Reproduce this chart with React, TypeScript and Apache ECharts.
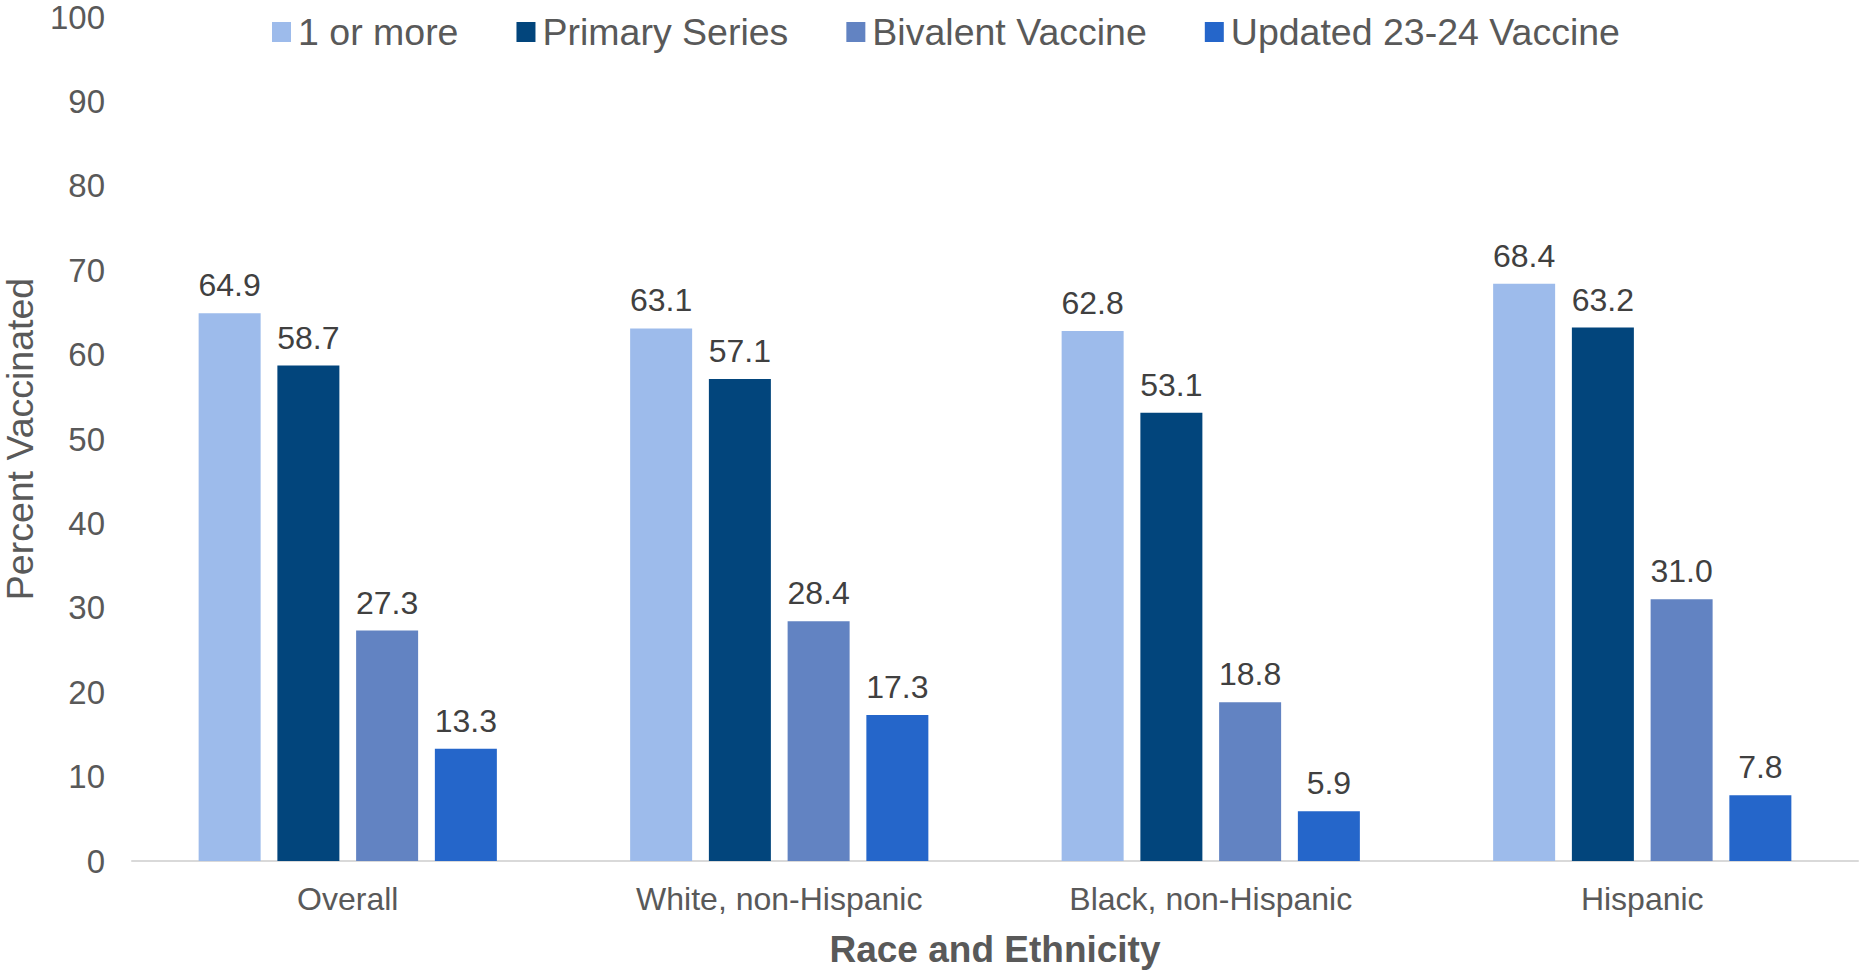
import React, { useEffect, useRef } from "react";
import * as echarts from "echarts";

const categories = ["Overall", "White, non-Hispanic", "Black, non-Hispanic", "Hispanic"];
const seriesNames = ["1 or more", "Primary Series", "Bivalent Vaccine", "Updated 23-24 Vaccine"];
const oneOrMore = [64.9, 63.1, 62.8, 68.4];
const primarySeries = [58.7, 57.1, 53.1, 63.2];
const bivalent = [27.3, 28.4, 18.8, 31.0];
const updated2324 = [13.3, 17.3, 5.9, 7.8];
const colors = ["#9DBBEB", "#02457C", "#6283C2", "#2566CA"];

const FONT = "'Liberation Sans', Arial, sans-serif";

export default function App() {
  const ref = useRef<HTMLDivElement>(null);
  useEffect(() => {
    if (!ref.current) return;
    const chart = echarts.init(ref.current, undefined, { renderer: "svg" });
    const values = [oneOrMore, primarySeries, bivalent, updated2324];
    chart.setOption({
      animation: false,
      textStyle: { fontFamily: FONT },
      legend: {
        top: 8,
        left: 267,
        itemWidth: 19,
        itemHeight: 20,
        itemGap: 58,
        icon: "rect",
        textStyle: { fontSize: 37.5, color: "#595959", fontFamily: FONT, padding: [0, 0, 0, 2] },
        data: seriesNames,
      },
      grid: { left: 132, right: 1, top: 17, bottom: 110, containLabel: false, outerBoundsMode: "none" },
      xAxis: {
        type: "category",
        data: categories,
        name: "Race and Ethnicity",
        nameLocation: "middle",
        nameGap: 70,
        nameTextStyle: { fontSize: 37, fontWeight: "bold", color: "#595959", fontFamily: FONT },
        axisLine: { lineStyle: { color: "#D9D9D9", width: 2 } },
        axisTick: { show: false },
        axisLabel: { fontSize: 32, color: "#595959", margin: 22, fontFamily: FONT },
      },
      yAxis: {
        type: "value",
        min: 0,
        max: 100,
        interval: 10,
        name: "Percent Vaccinated",
        nameLocation: "middle",
        nameGap: 87,
        nameTextStyle: { fontSize: 37.5, color: "#595959", fontFamily: FONT },
        axisLine: { show: false },
        axisTick: { show: false },
        splitLine: { show: false },
        axisLabel: { fontSize: 33, color: "#595959", margin: 27, fontFamily: FONT },
      },
      series: seriesNames.map((name, i) => ({
        name,
        type: "bar",
        data: values[i],
        barWidth: 62,
        barGap: "27%",
        itemStyle: { color: colors[i] },
        label: {
          show: true,
          position: "top",
          distance: 12,
          fontSize: 32,
          color: "#404040",
          fontFamily: FONT,
          formatter: (p: any) => Number(p.value).toFixed(1),
        },
      })),
    });
    return () => chart.dispose();
  }, []);
  return <div ref={ref} style={{ width: 1859, height: 971, position: "absolute", left: 0, top: 0, background: "#fff" }} />;
}
